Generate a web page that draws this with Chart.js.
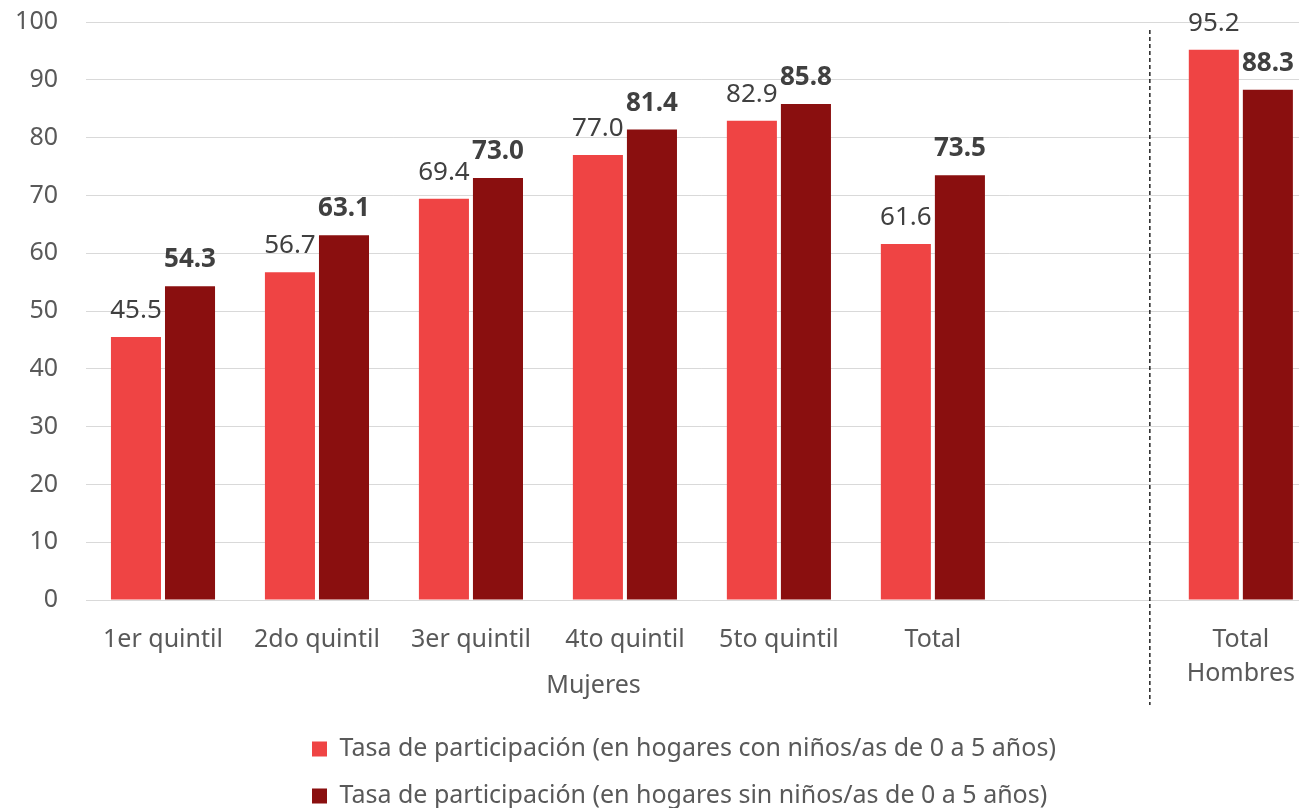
<!DOCTYPE html>
<html lang="es">
<head>
<meta charset="utf-8">
<title>Tasa de participación</title>
<script src="https://cdn.jsdelivr.net/npm/chart.js@4.4.1/dist/chart.umd.min.js"></script>
<style>
  html, body { margin: 0; padding: 0; background: #fff; overflow: hidden; }
  #wrap { position: relative; width: 1299px; height: 808px; overflow: hidden; }
</style>
</head>
<body>
<div id="wrap"><canvas id="chart" width="1318" height="808"></canvas></div>
<script>
const categories = ["1er quintil", "2do quintil", "3er quintil", "4to quintil", "5to quintil", "Total", "", ["Total", "Hombres"]];
const conNinos = [45.5, 56.7, 69.4, 77.0, 82.9, 61.6, null, 95.2];
const sinNinos = [54.3, 63.1, 73.0, 81.4, 85.8, 73.5, null, 88.3];
const seriesNames = [
  "Tasa de participación (en hogares con niños/as de 0 a 5 años)",
  "Tasa de participación (en hogares sin niños/as de 0 a 5 años)"
];
const groupLabel = "Mujeres";
const yMin = 0;
const yMax = 100;
const yStep = 10;

const FONT = "'Noto Sans'";
const TICK_COLOR = "#595959";
const LABEL_COLOR = "#404040";

// value labels over the bars
const valueLabels = {
  id: "valueLabels",
  afterDatasetsDraw(chart) {
    const ctx = chart.ctx;
    ctx.save();
    ctx.textAlign = "center";
    ctx.textBaseline = "alphabetic";
    ctx.fillStyle = LABEL_COLOR;
    chart.data.datasets.forEach((ds, i) => {
      const meta = chart.getDatasetMeta(i);
      ctx.font = (i === 1 ? "bold " : "") + "26px " + FONT;
      meta.data.forEach((bar, j) => {
        const v = ds.data[j];
        if (v === null || v === undefined) return;
        ctx.fillText(v.toFixed(1), bar.x, bar.y - 19);
      });
    });
    ctx.restore();
  }
};

// legend placement, group label and dashed separator
const extras = {
  id: "extras",
  afterLayout(chart) {
    const lg = chart.legend;
    const pad = lg.options.labels.padding;
    const dx = (312 - pad) - lg.left;
    const dy = (749 - pad - 12.5) - lg.top;
    lg.left += dx; lg.right += dx;
    lg.top += dy; lg.bottom += dy;
  },
  afterDraw(chart) {
    const ctx = chart.ctx;
    const x = chart.scales.x;
    const area = chart.chartArea;
    ctx.save();
    ctx.font = "25px " + FONT;
    ctx.fillStyle = TICK_COLOR;
    ctx.textAlign = "center";
    ctx.textBaseline = "middle";
    const gx = x.getPixelForValue(0) + (x.getPixelForValue(6) - x.getPixelForValue(0)) * 0.466;
    ctx.fillText(groupLabel, gx, area.bottom + 86);

    const sx = (x.getPixelForValue(6) + x.getPixelForValue(7)) / 2 - 14;
    ctx.strokeStyle = "#000";
    ctx.lineWidth = 1.3;
    ctx.setLineDash([4, 3]);
    ctx.beginPath();
    ctx.moveTo(sx, area.top + 8);
    ctx.lineTo(sx, area.bottom + 105);
    ctx.stroke();
    ctx.restore();
  }
};

new Chart(document.getElementById("chart"), {
  type: "bar",
  data: {
    labels: categories,
    datasets: [
      {
        label: seriesNames[0],
        data: conNinos,
        backgroundColor: "#EF4444",
        borderWidth: 0,
        categoryPercentage: 0.702,
        barPercentage: 0.926
      },
      {
        label: seriesNames[1],
        data: sinNinos,
        backgroundColor: "#8A0F0F",
        borderWidth: 0,
        categoryPercentage: 0.702,
        barPercentage: 0.926
      }
    ]
  },
  options: {
    responsive: false,
    animation: false,
    layout: {
      padding: { top: 22, right: 0, left: 0, bottom: 0 }
    },
    plugins: {
      legend: {
        position: "bottom",
        align: "start",
        labels: {
          boxWidth: 15,
          boxHeight: 15,
          padding: 22,
          color: TICK_COLOR,
          font: { family: FONT, size: 25 }
        }
      },
      tooltip: { enabled: false }
    },
    scales: {
      x: {
        grid: { display: false, drawTicks: false },
        border: { display: false },
        ticks: {
          color: TICK_COLOR,
          padding: 23,
          maxRotation: 0,
          autoSkip: false,
          font: { family: FONT, size: 25, lineHeight: 1.36 }
        },
        afterFit(scale) {
          scale.height = scale.chart.height - scale.chart.legend.height - 600;
        }
      },
      y: {
        min: yMin,
        max: yMax,
        grid: { color: "#D9D9D9", lineWidth: 1, drawTicks: true, tickLength: 28, tickColor: "rgba(0,0,0,0)" },
        border: { display: false },
        ticks: {
          stepSize: yStep,
          color: TICK_COLOR,
          padding: 0,
          font: { family: FONT, size: 25 }
        },
        afterFit(scale) {
          scale.width = 86;
        }
      }
    }
  },
  plugins: [valueLabels, extras]
});
</script>
</body>
</html>
